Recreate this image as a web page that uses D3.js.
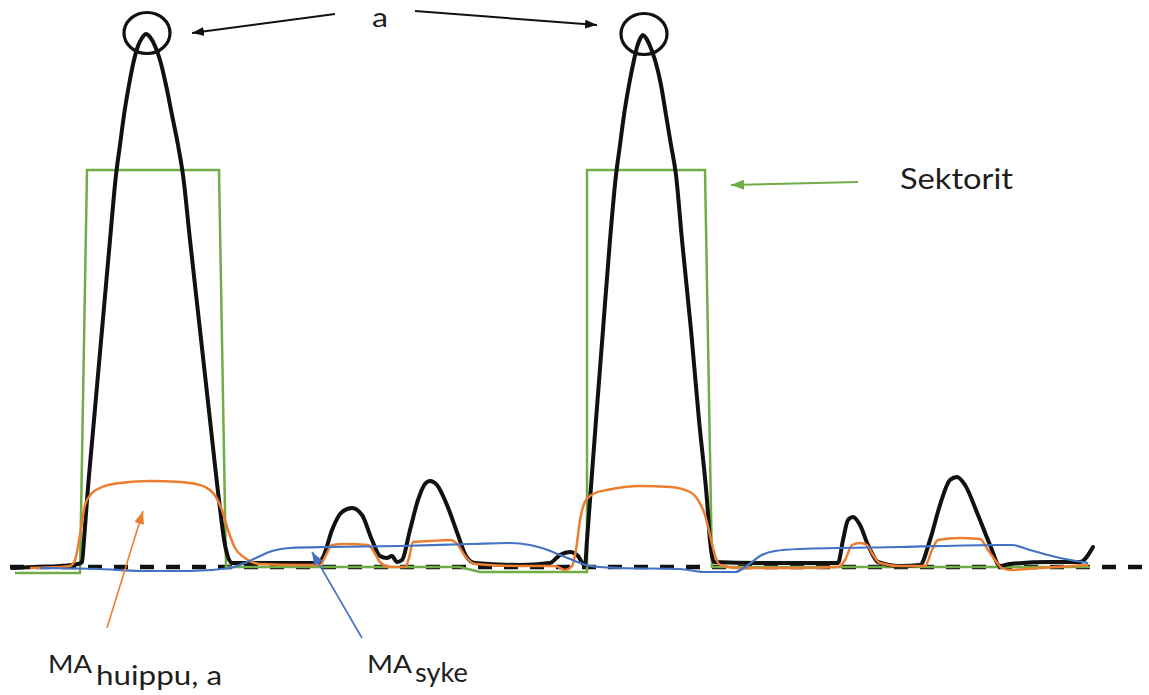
<!DOCTYPE html>
<html>
<head>
<meta charset="utf-8">
<script src="https://cdn.jsdelivr.net/npm/d3@7"></script>
<style>
  html, body { margin: 0; padding: 0; background: #fff; }
  svg { display: block; }
  text { font-family: Lato, "Open Sans", sans-serif; fill: #1e1e1e; }
</style>
</head>
<body>
<svg id="chart" width="1149" height="695"></svg>
<script>
// ---- Data (sample index, amplitude) ----
const signalT = [12,33,60,78,82,84,87,94,102,110,116,120,124,129,134,138,142,146,150,155,160,166,172,178,183,190,200,210,219,225,232,240,300,318,324,332,342,352,362,372,380,387,392,397,402,410,418,425,430,437,447,458,466,475,520,550,560,570,578,585,587,590,596,603,610,616,620,624,629,634,637,640,643,646,650,655,661,666,671,676,682,691,699,707,710,714,760,838,843,848,853,860,868,878,900,920,930,940,950,957,965,978,990,1000,1010,1050,1080,1093];
const signalV = [-1,0,1,3,5,27,67,147,237,327,392,422,452,482,507,521,529,533,530,521,507,482,452,422,392,327,237,147,67,22,4,4,4,4,12,37,55,59,52,27,11,9,11,5,7,37,67,83,86,82,62,32,11,4,2,4,12,15,11,1,27,67,147,237,327,392,422,452,482,507,520,528,532,529,521,507,482,452,422,392,327,237,147,67,27,5,4,4,27,47,50,42,22,5,1,2,27,62,87,90,82,52,22,1,3,5,5,20];

const peakMAT = [30,60,70,75,80,85,92,100,120,150,180,200,210,216,222,228,235,245,260,300,320,326,332,345,368,374,380,390,405,409,413,430,450,458,465,475,520,555,565,572,576,580,586,595,607,640,670,690,698,705,710,714,720,740,800,838,845,852,860,867,873,880,900,925,932,938,960,980,988,995,1002,1010,1040,1088];
const peakMAV = [-1,0,1,7,32,62,74,79,84,86,85,82,77,70,57,37,19,9,3,2,2,12,22,23,22,15,5,0,0,9,25,26,27,22,11,3,1,1,-3,1,17,47,67,74,77,81,80,75,67,52,32,15,2,-1,-1,0,7,22,24,22,12,4,1,1,17,27,29,28,17,7,-1,-3,-1,2];

const hrMAT = [40,100,140,190,230,245,258,272,290,330,400,470,510,530,545,560,575,590,620,680,705,735,748,760,775,800,900,1000,1012,1030,1060,1088];
const hrMAV = [-1,-2,-4,-4,-1,4,10,16,19,20,21,23,24,22,18,12,6,1,-1,-2,-5,-5,2,11,16,18,20,22,22,17,9,4];

const sectorT = [15,80,87,219,226,460,480,587,587,705,712,1090];
const sectorV = [-6,-6,397,397,0,0,-5,-5,397,397,0,0];

const baselineT = [10,1149];
const baselineV = [0,0];

// ---- Layout ----
const svg = d3.select("#chart");
const x = d3.scaleLinear().domain([0, 1149]).range([0, 1149]);
const y = d3.scaleLinear().domain([0, 532]).range([567, 35]);

const C = { black: "#111111", green: "#70ad47", orange: "#ed7d31", blue: "#4472c4" };

const zip = (t, v) => t.map((d, i) => [d, v[i]]);
const smooth = d3.line().x(d => x(d[0])).y(d => y(d[1])).curve(d3.curveMonotoneX);
const straight = d3.line().x(d => x(d[0])).y(d => y(d[1]));

// markers
const defs = svg.append("defs");
function marker(id, color, len, wid) {
  defs.append("marker").attr("id", id)
    .attr("viewBox", `0 0 ${len} ${wid}`).attr("refX", len).attr("refY", wid / 2)
    .attr("markerWidth", len).attr("markerHeight", wid)
    .attr("markerUnits", "userSpaceOnUse").attr("orient", "auto")
    .append("path").attr("d", `M0,0L${len},${wid/2}L0,${wid}Z`).attr("fill", color);
}
marker("mk-black", C.black, 12, 9);
marker("mk-green", C.green, 13, 10);
marker("mk-orange", C.orange, 13, 10);
marker("mk-blue", C.blue, 13, 10);

// baseline dashed
svg.append("path").datum(zip(baselineT, baselineV))
  .attr("d", straight).attr("fill", "none")
  .attr("stroke", C.black).attr("stroke-width", 4.5).attr("stroke-dasharray", "14,12");

// sectors
svg.append("path").datum(zip(sectorT, sectorV))
  .attr("d", straight).attr("fill", "none")
  .attr("stroke", C.green).attr("stroke-width", 2.5);

// signal
const sig = zip(signalT, signalV);
svg.append("path").datum(sig)
  .attr("d", smooth).attr("fill", "none")
  .attr("stroke", C.black).attr("stroke-width", 4).attr("stroke-linejoin", "round").attr("stroke-linecap", "round");

// MA peak
svg.append("path").datum(zip(peakMAT, peakMAV))
  .attr("d", smooth).attr("fill", "none")
  .attr("stroke", C.orange).attr("stroke-width", 2.5);

// MA heart rate
svg.append("path").datum(zip(hrMAT, hrMAV))
  .attr("d", smooth).attr("fill", "none")
  .attr("stroke", C.blue).attr("stroke-width", 2.2);

// circles around the two highest peaks
const peaks = [sig.filter(d => d[0] < 300), sig.filter(d => d[0] > 500 && d[0] < 800)]
  .map(seg => d3.greatest(seg, d => d[1]));
svg.selectAll("ellipse.peak").data(peaks).join("ellipse")
  .attr("class", "peak")
  .attr("cx", d => x(d[0]) + 1).attr("cy", d => y(d[1]) - 1)
  .attr("rx", 23).attr("ry", 20.5)
  .attr("fill", "none").attr("stroke", C.black).attr("stroke-width", 3.2);

// annotation arrows
const arrows = [
  { x1: 335, y1: 14, x2: 192, y2: 33, c: C.black, m: "mk-black", w: 2 },
  { x1: 415, y1: 11, x2: 597, y2: 25, c: C.black, m: "mk-black", w: 2 },
  { x1: 858, y1: 182, x2: 731, y2: 185, c: C.green, m: "mk-green", w: 2 },
  { x1: 107, y1: 628, x2: 143, y2: 511, c: C.orange, m: "mk-orange", w: 1.6 },
  { x1: 362, y1: 638, x2: 312, y2: 552, c: C.blue, m: "mk-blue", w: 1.6 }
];
svg.selectAll("line.arrow").data(arrows).join("line")
  .attr("class", "arrow")
  .attr("x1", d => d.x1).attr("y1", d => d.y1).attr("x2", d => d.x2).attr("y2", d => d.y2)
  .attr("stroke", d => d.c).attr("stroke-width", d => d.w)
  .attr("marker-end", d => `url(#${d.m})`);

// labels
function label(txt, px, py, size, len) {
  const t = svg.append("text").attr("x", px).attr("y", py)
    .style("font-size", size + "px").text(txt);
  if (len) t.attr("textLength", len).attr("lengthAdjust", "spacingAndGlyphs");
  return t;
}
label("a", 372, 26.5, 26.5, 16);
label("Sektorit", 900, 189, 29, 113);
label("MA", 48, 673, 25, 44);
label("huippu, a", 96, 685, 26, 126);
label("MA", 367, 673, 25, 45);
label("syke", 415, 682, 26, 53);
</script>
</body>
</html>
